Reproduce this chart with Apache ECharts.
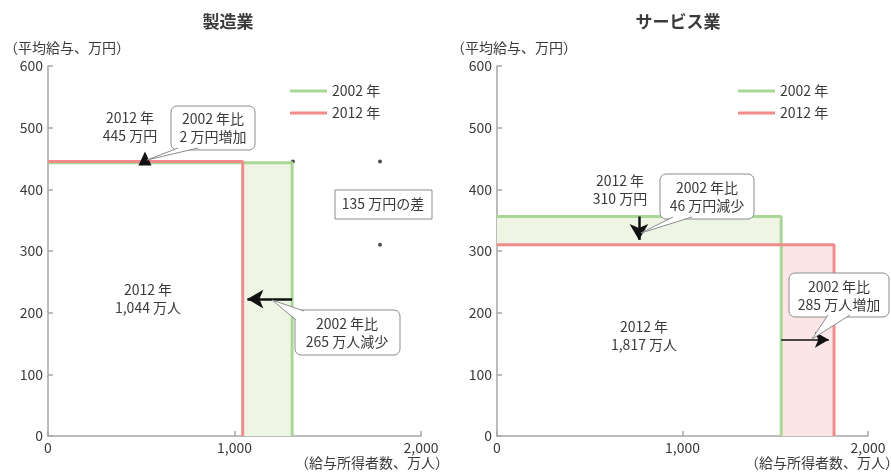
<!DOCTYPE html>
<html>
<head>
<meta charset="utf-8">
<script src="https://cdn.jsdelivr.net/npm/echarts@6/dist/echarts.min.js"></script>
<style>
html, body { margin: 0; padding: 0; background: #fff; }
#main { width: 891px; height: 472px; }
</style>
</head>
<body>
<div id="main"></div>
<script>
// values
var years = ['2002 年', '2012 年'];
var mfgWage = [443, 445];        // 平均給与 (万円)
var mfgWorkers = [1309, 1044];   // 給与所得者数 (万人)
var svcWage = [356, 310];
var svcWorkers = [1532, 1817];
var xTicks = [0, 1000, 2000];
var yTicks = [0, 100, 200, 300, 400, 500, 600];
var mfgGapDots = [[1313, 445], [1780, 445], [1780, 310]];

var FONT = '"Noto Sans CJK JP", "Noto Sans", sans-serif';
var TXT = '#3a3a3a';
var GREEN = '#a9d795';
var RED = '#f08b8b';

function steps(w, n) {
    return [[0, w], [n, w], [n, 0]];
}

function xAxisFor(i) {
    return {
        type: 'value', gridIndex: i,
        min: xTicks[0], max: xTicks[xTicks.length - 1], interval: xTicks[1] - xTicks[0],
        splitLine: {show: false},
        axisLine: {lineStyle: {color: '#a6a6a6', width: 1.5}},
        axisTick: {inside: true, length: 5, lineStyle: {color: '#a6a6a6', width: 1.5}},
        axisLabel: {
            margin: 5, fontSize: 14, fontFamily: FONT, color: TXT,
            formatter: function (v) { return v.toLocaleString('en-US'); }
        }
    };
}
function yAxisFor(i) {
    return {
        type: 'value', gridIndex: i,
        min: yTicks[0], max: yTicks[yTicks.length - 1], interval: yTicks[1] - yTicks[0],
        splitLine: {show: false},
        axisLine: {show: true, lineStyle: {color: '#a6a6a6', width: 1.5}},
        axisTick: {show: true, inside: true, length: 5, lineStyle: {color: '#a6a6a6', width: 1.5}},
        axisLabel: {margin: 5, fontSize: 14, fontFamily: FONT, color: TXT}
    };
}

function arrow(from, to, width, size) {
    return {
        silent: true,
        symbol: ['none', 'arrow'],
        symbolSize: size,
        label: {show: false},
        lineStyle: {color: '#111', width: width, type: 'solid'},
        data: [[{coord: from}, {coord: to}]]
    };
}

// annotation helpers (pixel layout)
function text(x, y, str, opt) {
    opt = opt || {};
    return {
        type: 'text', x: x, y: y, z: 100,
        style: {
            text: str, fill: TXT,
            font: (opt.weight || 'normal') + ' ' + (opt.size || 14) + 'px ' + FONT,
            align: opt.align || 'center', verticalAlign: 'middle', lineHeight: 18
        }
    };
}
function bubble(x, y, w, h, tail) {
    return [
        {type: 'rect', z: 100, shape: {x: x, y: y, width: w, height: h, r: 6},
         style: {fill: '#fff', stroke: '#8c8c8c', lineWidth: 1}},
        {type: 'polygon', z: 101, shape: {points: tail}, style: {fill: '#fff'}},
        {type: 'polyline', z: 101, shape: {points: [tail[0], tail[1], tail[2]]},
         style: {stroke: '#8c8c8c', lineWidth: 1, fill: null}}
    ];
}

var graphics = [].concat(
    text(228, 22, '製造業', {size: 17, weight: 'bold'}),
    text(678, 22, 'サービス業', {size: 17, weight: 'bold'}),
    text(4, 48, '（平均給与、万円）', {align: 'left'}),
    text(451, 48, '（平均給与、万円）', {align: 'left'}),
    text(372, 463, '（給与所得者数、万人）'),
    text(822, 463, '（給与所得者数、万人）'),
    // 製造業
    text(130, 127, '2012 年\n445 万円'),
    bubble(171, 106, 84, 44, [[178, 148], [147, 160], [198, 148]]),
    text(213, 128, '2002 年比\n2 万円増加'),
    {type: 'rect', z: 100, shape: {x: 335, y: 190, width: 97, height: 29},
     style: {fill: '#fff', stroke: '#8c8c8c', lineWidth: 1}},
    text(383, 204, '135 万円の差'),
    text(148, 299, '2012 年\n1,044 万人'),
    bubble(295, 310, 105, 45, [[296, 320], [272, 300], [304, 311]]),
    text(347, 333, '2002 年比\n265 万人減少'),
    // サービス業
    text(620, 190, '2012 年\n310 万円'),
    bubble(660, 174, 94, 45, [[673, 217], [641, 233], [692, 217]]),
    text(707, 197, '2002 年比\n46 万円減少'),
    bubble(789, 273, 100, 44, [[828, 315], [812, 339], [850, 315]]),
    text(839, 296, '2002 年比\n285 万人増加'),
    text(644, 336, '2012 年\n1,817 万人')
);

var legendBase = {
    orient: 'vertical', top: 79, itemGap: 8,
    icon: 'rect', itemWidth: 37, itemHeight: 3,
    textStyle: {fontSize: 14, fontFamily: FONT, color: TXT},
    data: years
};

var chart = echarts.init(document.getElementById('main'));
chart.setOption({
    animation: false,
    backgroundColor: '#fff',
    grid: [
        {left: 48, right: 470, top: 66, bottom: 36},
        {left: 497, right: 23, top: 66, bottom: 36}
    ],
    legend: [
        Object.assign({left: 285}, legendBase),
        Object.assign({left: 733}, legendBase)
    ],
    xAxis: [xAxisFor(0), xAxisFor(1)],
    yAxis: [yAxisFor(0), yAxisFor(1)],
    series: [{
        name: years[0], type: 'line', xAxisIndex: 0, yAxisIndex: 0,
        data: steps(mfgWage[0], mfgWorkers[0]),
        symbol: 'none', color: GREEN, lineStyle: {width: 3},
        markArea: {
            silent: true, itemStyle: {color: '#eef5e5'},
            data: [[{coord: [mfgWorkers[1], 0]}, {coord: [mfgWorkers[0], mfgWage[0]]}]]
        },
        markLine: arrow([mfgWorkers[0], 222], [mfgWorkers[1] + 25, 222], 2.5, [14, 16])
    }, {
        name: years[1], type: 'line', xAxisIndex: 0, yAxisIndex: 0,
        data: steps(mfgWage[1], mfgWorkers[1]),
        symbol: 'none', color: RED, lineStyle: {width: 3},
        markPoint: {
            silent: true, symbol: 'triangle', symbolSize: [13, 14], symbolOffset: [0, -3],
            itemStyle: {color: '#111'}, label: {show: false},
            data: [{coord: [520, mfgWage[1]]}]
        }
    }, {
        name: years[0], type: 'line', xAxisIndex: 1, yAxisIndex: 1,
        data: steps(svcWage[0], svcWorkers[0]),
        symbol: 'none', color: GREEN, lineStyle: {width: 3},
        markArea: {
            silent: true, itemStyle: {color: '#eef5e5'},
            data: [[{coord: [0, svcWage[1]]}, {coord: [svcWorkers[0], svcWage[0]]}]]
        },
        markLine: arrow([765, svcWage[0]], [765, svcWage[1] + 8], 2.5, [14, 16])
    }, {
        name: years[1], type: 'line', xAxisIndex: 1, yAxisIndex: 1,
        data: steps(svcWage[1], svcWorkers[1]),
        symbol: 'none', color: RED, lineStyle: {width: 3},
        markArea: {
            silent: true, itemStyle: {color: '#fce5e7'},
            data: [[{coord: [svcWorkers[0], 0]}, {coord: [svcWorkers[1], svcWage[1]]}]]
        },
        markLine: arrow([svcWorkers[0], 156], [svcWorkers[1] - 28, 156], 1.5, [12, 14])
    }, {
        name: 'dots', type: 'scatter', xAxisIndex: 0, yAxisIndex: 0,
        data: mfgGapDots, symbolSize: 4, itemStyle: {color: '#222'}, silent: true
    }],
    graphic: graphics
});
</script>
</body>
</html>
